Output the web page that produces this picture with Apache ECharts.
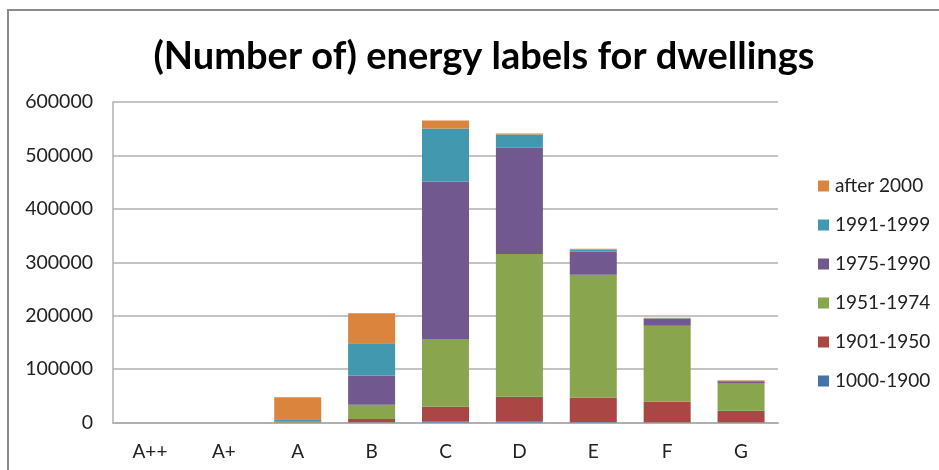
<!DOCTYPE html>
<html>
<head>
<meta charset="utf-8">
<script src="https://cdn.jsdelivr.net/npm/echarts@6/dist/echarts.min.js"></script>
<style>
  html, body { margin: 0; padding: 0; background: #fff; }
  #chart { width: 939px; height: 470px; }
</style>
</head>
<body>
<div id="chart"></div>
<script>
// Energy label classes
const categories = ['A++', 'A+', 'A', 'B', 'C', 'D', 'E', 'F', 'G'];

// Number of dwellings per construction period
const period1000_1900 = [0, 0, 0, 300, 2500, 2500, 1000, 500, 300];
const period1901_1950 = [0, 0, 300, 6400, 26800, 45600, 46000, 38500, 21700];
const period1951_1974 = [0, 0, 1800, 26300, 127100, 267300, 229500, 142000, 52000];
const period1975_1990 = [0, 0, 500, 55000, 294700, 198900, 43800, 13000, 3000];
const period1991_1999 = [0, 0, 3600, 60500, 99500, 25000, 3000, 1000, 1000];
const periodAfter2000 = [0, 0, 41000, 56200, 15000, 1900, 2000, 1000, 1000];

const yTicks = [0, 100000, 200000, 300000, 400000, 500000, 600000];

const seriesDefs = [
  { name: '1000-1900', data: period1000_1900, color: '#4572A7' },
  { name: '1901-1950', data: period1901_1950, color: '#AA4643' },
  { name: '1951-1974', data: period1951_1974, color: '#89A54E' },
  { name: '1975-1990', data: period1975_1990, color: '#71588F' },
  { name: '1991-1999', data: period1991_1999, color: '#4198AF' },
  { name: 'after 2000', data: periodAfter2000, color: '#DB843D' }
];

const FONT = 'Lato, "Open Sans", sans-serif';

const chart = echarts.init(document.getElementById('chart'), null, { renderer: 'canvas' });

chart.setOption({
  backgroundColor: '#ffffff',
  animation: false,
  title: {
    text: '(Number of) energy labels for dwellings',
    left: 479,
    textAlign: 'center',
    top: 33,
    textStyle: { fontFamily: FONT, fontWeight: 'bold', fontSize: 38, color: '#000' }
  },
  graphic: [
    {
      type: 'polyline',
      shape: { points: [[8, 475], [8, 10], [945, 10]] },
      style: { stroke: '#8a8a8a', lineWidth: 2, fill: null }
    }
  ],
  legend: {
    orient: 'vertical',
    left: 813,
    top: 171,
    itemWidth: 11,
    itemHeight: 11,
    itemGap: 19,
    icon: 'rect',
    data: seriesDefs.map(s => s.name).reverse(),
    textStyle: { fontFamily: FONT, fontSize: 19, color: '#222', lineHeight: 20, padding: [0, 0, 0, 1] }
  },
  grid: { left: 113, top: 102, width: 665, height: 320.5, containLabel: false },
  xAxis: {
    type: 'category',
    data: categories,
    axisLine: { lineStyle: { color: '#b0b0b0', width: 2 } },
    axisTick: { show: false },
    axisLabel: { fontFamily: FONT, fontSize: 19, color: '#222', margin: 20 }
  },
  yAxis: {
    type: 'value',
    min: yTicks[0],
    max: yTicks[yTicks.length - 1],
    interval: 100000,
    axisLine: { show: true, lineStyle: { color: '#b0b0b0', width: 1.5 } },
    axisTick: { show: false },
    splitLine: { lineStyle: { color: '#b0b0b0', width: 1.5 } },
    axisLabel: {
      fontFamily: FONT, fontSize: 19.5, color: '#222', margin: 20,
      formatter: v => String(v)
    }
  },
  series: seriesDefs.map(s => ({
    name: s.name,
    type: 'bar',
    stack: 'total',
    barWidth: 47,
    data: s.data,
    itemStyle: { color: s.color }
  }))
});
</script>
</body>
</html>
